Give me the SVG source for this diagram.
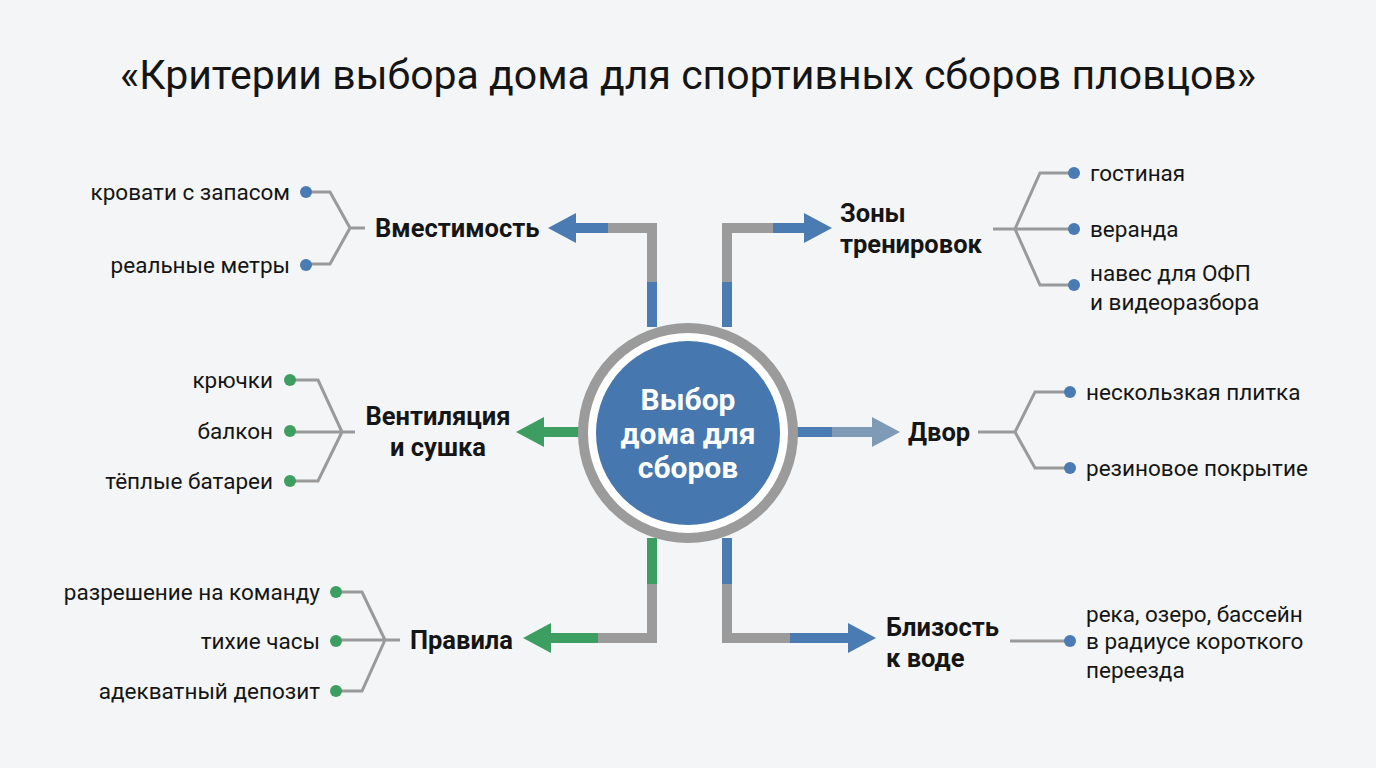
<svg xmlns="http://www.w3.org/2000/svg" width="1376" height="768" viewBox="0 0 1376 768">
<defs>
<style>
.t{font-family:Roboto,"Liberation Sans",sans-serif;fill:#151515}
.lb{font-size:25.5px;font-weight:bold}
.it{font-size:22.5px}
.br{fill:none;stroke:#9a9a9a;stroke-width:3}
.c{fill:none;stroke-width:10}
.g{stroke:#9b9b9b}.b{stroke:#4a7bb2}.gr{stroke:#3d9e62}
</style>
</defs>
<rect width="1376" height="768" fill="#f4f5f6"/>
<text class="t" x="688" y="89" font-size="41" text-anchor="middle">«Критерии выбора дома для спортивных сборов пловцов»</text>
<g id="connectors">
<path class="c b" d="M652 327V280"/><path class="c g" d="M652 282V228H606"/><path class="c b" d="M608 228H570"/>
<polygon points="548,228 576,213 576,243" fill="#4a7bb2"/>
<path class="c b" d="M727 327V280"/><path class="c g" d="M727 282V228H775"/><path class="c b" d="M773 228H810"/>
<polygon points="832,228 804,213 804,243" fill="#4a7bb2"/>
<path class="c gr" d="M580 432H540"/><polygon points="516,432 544,417 544,447" fill="#3d9e62"/>
<path class="c b" d="M796 432H834"/><path class="c" stroke="#7f9ab5" d="M832 432H876"/><polygon points="900,432 872,417 872,447" fill="#7f9ab5"/>
<path class="c gr" d="M652 538V586"/><path class="c g" d="M652 584V638H596"/><path class="c gr" d="M598 638H548"/>
<polygon points="523,638 551,623 551,653" fill="#3d9e62"/>
<path class="c b" d="M727 538V586"/><path class="c g" d="M727 584V638H792"/><path class="c b" d="M790 638H852"/>
<polygon points="876,638 848,623 848,653" fill="#4a7bb2"/>
<path class="br" d="M365 228H350M350 228L330 192H306M350 228L330 264H306"/>
<path class="br" d="M355 432H342M342 432L318 380H290M342 432H290M342 432L318 481H290"/>
<path class="br" d="M400 640H385M385 640L362 592H336M385 640H336M385 640L362 691H336"/>
<path class="br" d="M993 229H1015M1015 229L1040 173H1074M1015 229H1074M1015 229L1040 285H1074"/>
<path class="br" d="M978 432H1015M1015 432L1035 392H1070M1015 432L1035 468H1070"/>
<path class="br" d="M1010 641H1070"/>
</g>
<g id="center">
<circle cx="688" cy="433" r="105" fill="#fff" stroke="#9b9b9b" stroke-width="10"/>
<circle cx="688" cy="433" r="92" fill="#4677ae"/>
<text class="t" x="688" y="410" font-size="30" font-weight="bold" text-anchor="middle" style="fill:#fff">Выбор</text>
<text class="t" x="688" y="444" font-size="30" font-weight="bold" text-anchor="middle" style="fill:#fff">дома для</text>
<text class="t" x="688" y="478" font-size="30" font-weight="bold" text-anchor="middle" style="fill:#fff">сборов</text>
</g>
<g id="n-capacity">
<text class="t lb" x="375" y="237">Вместимость</text>
<circle cx="306" cy="192" r="6" fill="#4a7bb2"/><circle cx="306" cy="265" r="6" fill="#4a7bb2"/>
<text class="t it" x="290" y="200" text-anchor="end">кровати с запасом</text>
<text class="t it" x="290" y="273" text-anchor="end">реальные метры</text>
</g>
<g id="n-vent">
<text class="t lb" x="438" y="425" text-anchor="middle">Вентиляция</text>
<text class="t lb" x="438" y="456" text-anchor="middle">и сушка</text>
<circle cx="290" cy="380" r="6" fill="#3d9e62"/><circle cx="290" cy="431" r="6" fill="#3d9e62"/><circle cx="290" cy="481" r="6" fill="#3d9e62"/>
<text class="t it" x="273" y="388" text-anchor="end">крючки</text>
<text class="t it" x="273" y="439" text-anchor="end">балкон</text>
<text class="t it" x="273" y="489" text-anchor="end">тёплые батареи</text>
</g>
<g id="n-rules">
<text class="t lb" x="410" y="649">Правила</text>
<circle cx="336" cy="592" r="6" fill="#3d9e62"/><circle cx="336" cy="641" r="6" fill="#3d9e62"/><circle cx="336" cy="691" r="6" fill="#3d9e62"/>
<text class="t it" x="320" y="600" text-anchor="end">разрешение на команду</text>
<text class="t it" x="320" y="649" text-anchor="end">тихие часы</text>
<text class="t it" x="320" y="699" text-anchor="end">адекватный депозит</text>
</g>
<g id="n-zones">
<text class="t lb" x="840" y="222">Зоны</text>
<text class="t lb" x="840" y="253">тренировок</text>
<circle cx="1074" cy="173" r="6" fill="#4a7bb2"/><circle cx="1074" cy="229" r="6" fill="#4a7bb2"/><circle cx="1074" cy="285" r="6" fill="#4a7bb2"/>
<text class="t it" x="1090" y="181">гостиная</text>
<text class="t it" x="1090" y="237">веранда</text>
<text class="t it" x="1090" y="281">навес для ОФП</text>
<text class="t it" x="1090" y="310">и видеоразбора</text>
</g>
<g id="n-yard">
<text class="t lb" x="908" y="441">Двор</text>
<circle cx="1070" cy="392" r="6" fill="#4a7bb2"/><circle cx="1070" cy="468" r="6" fill="#4a7bb2"/>
<text class="t it" x="1086" y="400">нескользкая плитка</text>
<text class="t it" x="1086" y="476">резиновое покрытие</text>
</g>
<g id="n-water">
<text class="t lb" x="886" y="636">Близость</text>
<text class="t lb" x="886" y="667">к воде</text>
<circle cx="1070" cy="641" r="6" fill="#4a7bb2"/>
<text class="t it" x="1086" y="622">река, озеро, бассейн</text>
<text class="t it" x="1086" y="649">в радиусе короткого</text>
<text class="t it" x="1086" y="678">переезда</text>
</g>
</svg>
